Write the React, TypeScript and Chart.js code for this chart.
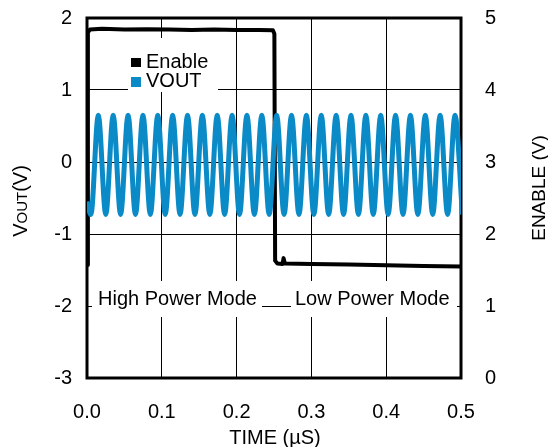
import { useEffect, useRef } from 'react';
import { Chart, registerables } from 'chart.js';

Chart.register(...registerables);

const FONT = '"Liberation Sans", Arial, sans-serif';

const X_TICKS = [0, 0.1, 0.2, 0.3, 0.4, 0.5];
const LEFT_TICKS = [-3, -2, -1, 0, 1, 2];
const RIGHT_TICKS = [0, 1, 2, 3, 4, 5];

// VOUT (left axis, V): successive troughs / peaks of the 50 MHz waveform
const VOUT_TIME = [
  0, 0.0052, 0.0151, 0.0251, 0.035, 0.0449, 0.0549, 0.0648, 0.0748, 0.0847, 0.0946,
  0.1046, 0.1145, 0.1244, 0.1344, 0.1443, 0.1542, 0.1642, 0.1741, 0.184, 0.194,
  0.2039, 0.2138, 0.2238, 0.2337, 0.2436, 0.2536, 0.2635, 0.2734, 0.2834, 0.2933,
  0.3033, 0.3132, 0.3231, 0.3331, 0.343, 0.3529, 0.3629, 0.3728, 0.3827, 0.3927,
  0.4026, 0.4125, 0.4225, 0.4324, 0.4423, 0.4523, 0.4622, 0.4721, 0.4821, 0.492,
  0.5019,
];
const VOUT_VALUE = [
  -0.55, -0.73, 0.65, -0.73, 0.65, -0.73, 0.65, -0.73, 0.65, -0.73, 0.65,
  -0.73, 0.65, -0.73, 0.65, -0.73, 0.65, -0.73, 0.65, -0.73, 0.65,
  -0.73, 0.65, -0.73, 0.65, -0.73, 0.65, -0.73, 0.65, -0.73, 0.65,
  -0.73, 0.65, -0.73, 0.65, -0.73, 0.65, -0.73, 0.65, -0.73, 0.65,
  -0.73, 0.65, -0.73, 0.65, -0.73, 0.65, -0.73, 0.65, -0.73, 0.65,
  -0.73,
];

// ENABLE (right axis, V)
const ENABLE_TIME = [
  0, 0.0012, 0.004, 0.02, 0.05, 0.08, 0.11, 0.14, 0.17, 0.2, 0.23, 0.2485,
  0.2505, 0.2515, 0.2545, 0.2615, 0.2628, 0.2645, 0.3, 0.35, 0.4, 0.45, 0.5,
];
const ENABLE_VALUE = [
  1.57, 4.8, 4.84, 4.85, 4.84, 4.845, 4.84, 4.835, 4.84, 4.835, 4.835, 4.83,
  4.78, 1.63, 1.59, 1.585, 1.665, 1.59, 1.585, 1.575, 1.565, 1.555, 1.55,
];

const SERIES_NAMES = ['Enable', 'VOUT'];
const MODE_LABELS = ['High Power Mode', 'Low Power Mode'];

export default function App() {
  const ref = useRef<HTMLCanvasElement>(null);

  useEffect(() => {
    const canvas = ref.current;
    if (!canvas) return;

    const decor = {
      id: 'decor',
      beforeDatasetsDraw(chart: any) {
        const ctx = chart.ctx;
        const a = chart.chartArea;
        ctx.save();
        ctx.fillStyle = '#fff';
        ctx.fillRect(128, 38, 90, 54);
        ctx.fillRect(92, 281, 170, 36);
        ctx.fillRect(291, 281, 166, 36);
        ctx.strokeStyle = '#000';
        ctx.lineWidth = 3;
        ctx.strokeRect(a.left, a.top, a.right - a.left, a.bottom - a.top);
        ctx.fillStyle = '#000';
        ctx.font = `20px ${FONT}`;
        ctx.textBaseline = 'alphabetic';
        ctx.textAlign = 'left';
        ctx.fillText(MODE_LABELS[0], 98, 305);
        ctx.fillText(MODE_LABELS[1], 295, 305);
        ctx.fillStyle = '#000';
        ctx.fillRect(131, 58, 10, 9);
        ctx.fillText(SERIES_NAMES[0], 146, 68);
        ctx.fillStyle = '#0a8bc7';
        ctx.fillRect(131, 77, 10, 10);
        ctx.fillStyle = '#000';
        ctx.fillText(SERIES_NAMES[1], 146, 87);
        ctx.restore();
      },
      afterDraw(chart: any) {
        const ctx = chart.ctx;
        ctx.save();
        ctx.fillStyle = '#000';
        ctx.textBaseline = 'alphabetic';
        ctx.font = `20px ${FONT}`;
        ctx.textAlign = 'center';
        ctx.fillText('TIME (\u00b5S)', 275, 444);
        const parts: [string, number][] = [['V', 20], ['OUT', 15], ['(V)', 20]];
        let total = 0;
        const widths = parts.map(([t, s]) => {
          ctx.font = `${s}px ${FONT}`;
          const w = ctx.measureText(t).width;
          total += w;
          return w;
        });
        ctx.translate(27, 201);
        ctx.rotate(-Math.PI / 2);
        ctx.textAlign = 'left';
        let x = -total / 2;
        parts.forEach(([t, s], i) => {
          ctx.font = `${s}px ${FONT}`;
          ctx.fillText(t, x, 0);
          x += widths[i];
        });
        ctx.setTransform(1, 0, 0, 1, 0, 0);
        ctx.translate(545, 188);
        ctx.rotate(-Math.PI / 2);
        ctx.font = `19px ${FONT}`;
        ctx.textAlign = 'center';
        ctx.fillText('ENABLE (V)', 0, 0);
        ctx.restore();
      },
    };

    const tickFont = { family: FONT, size: 20 };
    const fitV = (s: any) => { s.width = 87; s.paddingTop = 0; s.paddingBottom = 0; };

    const chart = new Chart(canvas, {
      type: 'line',
      data: {
        datasets: [
          {
            label: SERIES_NAMES[1],
            data: VOUT_TIME.map((t, i) => ({ x: t, y: VOUT_VALUE[i] })),
            yAxisID: 'y',
            borderColor: '#0a8bc7',
            borderWidth: 5,
            pointRadius: 0,
            cubicInterpolationMode: 'monotone',
            clip: 0,
          },
          {
            label: SERIES_NAMES[0],
            data: ENABLE_TIME.map((t, i) => ({ x: t, y: ENABLE_VALUE[i] })),
            yAxisID: 'y2',
            borderColor: '#000',
            borderWidth: 4,
            pointRadius: 0,
            tension: 0,
            borderJoinStyle: 'round',
          },
        ],
      } as any,
      options: {
        animation: false,
        responsive: false,
        devicePixelRatio: 1,
        layout: { padding: { top: 18, left: 0, right: 0, bottom: 0 } },
        plugins: { legend: { display: false }, tooltip: { enabled: false } },
        scales: {
          x: {
            type: 'linear',
            min: 0,
            max: 0.5,
            afterFit: (s: any) => { s.height = 69; s.paddingLeft = 0; s.paddingRight = 0; },
            afterBuildTicks: (s: any) => { s.ticks = X_TICKS.map((v) => ({ value: v })); },
            ticks: {
              font: tickFont,
              color: '#000',
              padding: 22,
              maxRotation: 0,
              autoSkip: false,
              callback: (v: any) => Number(v).toFixed(1),
            },
            grid: { color: '#000', lineWidth: 1, drawTicks: false },
            border: { display: false },
          },
          y: {
            type: 'linear',
            position: 'left',
            min: -3,
            max: 2,
            afterFit: fitV,
            afterBuildTicks: (s: any) => { s.ticks = LEFT_TICKS.map((v) => ({ value: v })); },
            ticks: { font: tickFont, color: '#000', padding: 15 },
            grid: { color: '#000', lineWidth: 1, drawTicks: false },
            border: { display: false },
          },
          y2: {
            type: 'linear',
            position: 'right',
            min: 0,
            max: 5,
            afterFit: fitV,
            afterBuildTicks: (s: any) => { s.ticks = RIGHT_TICKS.map((v) => ({ value: v })); },
            ticks: { font: tickFont, color: '#000', padding: 24 },
            grid: { display: false, drawTicks: false },
            border: { display: false },
          },
        },
      } as any,
      plugins: [decor],
    });

    return () => chart.destroy();
  }, []);

  return (
    <div style={{ position: 'absolute', left: 0, top: 0, width: 548, height: 447, background: '#fff' }}>
      <canvas ref={ref} width={548} height={447} />
    </div>
  );
}
